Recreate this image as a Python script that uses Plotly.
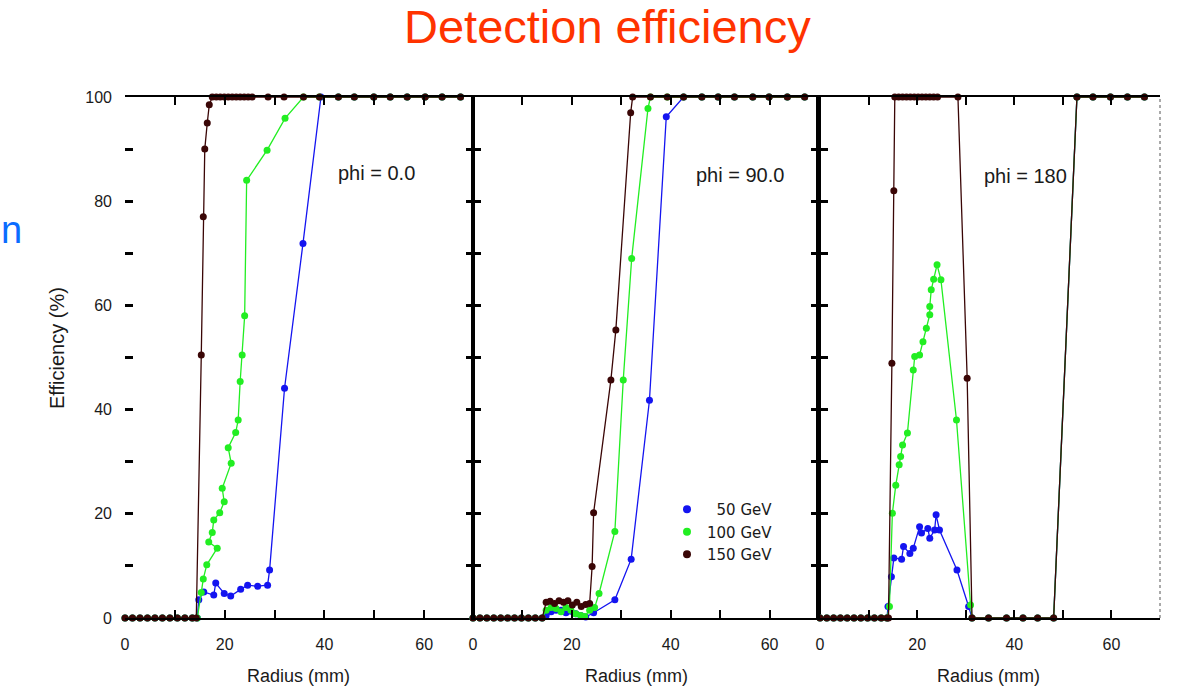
import plotly.graph_objects as go

W, H = 1195, 687

# ---------------- data ----------------
# phi = 0.0 panel
z1 = [0, 1.5, 3, 4.5, 6, 7.5, 9, 10.5, 12, 13.5]
top1 = [35.8, 39.0, 42.8, 46.0, 49.9, 53.2, 56.6, 60.2, 63.6, 67.3]

p1_150_x = z1 + [14.3, 15.3, 15.7, 16.0, 16.5, 16.9, 17.5, 18.3, 19.1, 19.9, 20.7,
                 21.5, 22.3, 23.1, 23.9, 24.7, 25.5, 28.7, 31.9] + top1
p1_150_y = [0] * 10 + [0, 50.5, 77, 90, 95, 98.5, 100, 100, 100, 100, 100,
                       100, 100, 100, 100, 100, 100, 100, 100] + [100] * 10

p1_100_x = z1 + [14.5, 15.3, 15.7, 16.4, 18.5, 16.8, 17.5, 17.8, 19.0, 19.9, 19.5,
                 21.3, 20.7, 22.2, 22.7, 23.1, 23.5, 24.0, 24.4, 28.5, 32.1] + top1
p1_100_y = [0] * 10 + [0, 4.9, 7.5, 10.2, 13.4, 14.6, 16.4, 18.8, 20.2, 22.3, 24.9,
                       29.7, 32.7, 35.6, 38.0, 45.4, 50.5, 58.0, 84.0, 89.8, 95.9] + [100] * 10

p1_50_x = z1 + [14.5, 14.8, 15.8, 17.8, 18.2, 19.9, 21.2, 23.2, 24.6, 26.6, 28.6,
                29.0, 32.0, 35.7, 39.3] + top1[2:]
p1_50_y = [0] * 10 + [0, 3.5, 5.0, 4.4, 6.7, 4.7, 4.2, 5.5, 6.3, 6.1, 6.3,
                      9.2, 44.1, 71.9, 100] + [100] * 8

# phi = 90.0 panel
z2 = [0, 1.4, 2.8, 4.2, 5.6, 7.0, 8.4, 9.8, 11.2, 12.6, 14.0]
top2 = [35.9, 39.3, 42.6, 46.3, 49.6, 52.9, 56.6, 59.9, 63.6, 67.1]

p2_150_x = z2 + [14.8, 15.6, 16.5, 17.4, 18.3, 19.2, 20.1, 21.0, 21.9, 22.8, 23.6,
                 24.1, 24.4, 27.9, 28.9, 31.9, 32.3] + top2
p2_150_y = [0] * 11 + [3.0, 3.2, 2.8, 3.3, 3.0, 3.3, 2.5, 3.0, 2.2, 2.6, 2.8,
                       9.9, 20.2, 45.7, 55.3, 97.0, 100] + [100] * 10

p2_100_x = z2 + [14.8, 15.8, 16.8, 17.8, 18.8, 19.8, 20.8, 21.8, 22.6, 23.6, 24.6,
                 25.5, 28.7, 30.4, 32.1, 35.4] + top2
p2_100_y = [0] * 11 + [1.5, 2.0, 1.8, 1.2, 2.0, 1.5, 0.8, 0.5, 0.3, 1.5, 2.0,
                       4.7, 16.6, 45.7, 69.0, 97.8] + [100] * 10

p2_50_x = z2 + [14.8, 15.8, 16.8, 17.8, 18.8, 19.8, 20.8, 21.8, 22.8, 24.4,
                28.7, 32.0, 35.7, 39.1] + top2[2:]
p2_50_y = [0] * 11 + [0.5, 1.2, 1.5, 1.5, 1.0, 1.3, 0.8, 0.5, 0.2, 1.0,
                      3.5, 11.3, 41.8, 96.2] + [100] * 8

# phi = 180 panel
z3 = [0, 1.4, 2.8, 4.2, 5.6, 7.0, 8.4, 9.8, 11.2, 12.6, 13.8]
gap3_x = [34.7, 38.4, 41.8, 44.8, 48.1]
top3 = [52.9, 56.2, 59.8, 63.3, 66.8]

p3_150_x = z3 + [14.1, 14.8, 15.2, 15.4, 16.2, 17.0, 17.8, 18.6, 19.4, 20.2, 21.0,
                 21.8, 22.6, 23.4, 24.2, 28.4, 30.3, 31.3] + gap3_x + top3
p3_150_y = [0] * 11 + [0, 48.9, 82.0, 100, 100, 100, 100, 100, 100, 100, 100,
                       100, 100, 100, 100, 100, 46.0, 0] + [0] * 5 + [100] * 5

p3_100_x = z3 + [14.3, 14.9, 15.6, 16.3, 16.6, 17.0, 18.0, 19.2, 19.5, 20.5, 21.2,
                 21.9, 22.6, 22.6, 22.9, 23.4, 24.1, 24.9, 28.1, 31.0, 31.3] + gap3_x + top3
p3_100_y = [0] * 11 + [2.2, 20.1, 25.5, 29.4, 31.0, 33.2, 35.5, 47.6, 50.2, 50.5, 53.0,
                       55.6, 58.2, 59.8, 63.0, 65.0, 67.8, 64.9, 38.0, 2.5, 0] + [0] * 5 + [100] * 5

p3_50_x = z3 + [14.0, 14.7, 15.2, 16.8, 17.2, 18.5, 19.2, 20.5, 20.9, 22.2, 22.6,
                23.6, 23.9, 24.6, 28.2, 30.6, 31.3] + gap3_x + top3
p3_50_y = [0] * 11 + [2.2, 7.9, 11.5, 11.3, 13.7, 12.4, 13.4, 17.5, 16.3, 17.2, 15.3,
                      16.9, 19.8, 16.9, 9.2, 2.2, 0] + [0] * 5 + [100] * 5

series_names = ["\u00a0\u00a050 GeV", "100 GeV", "150 GeV"]
colors = ["#1414f0", "#22ee22", "#3a0606"]
panel_labels = ["phi = 0.0", "phi = 90.0", "phi = 180"]
x_ticks = [0, 20, 40, 60]
y_ticks = [0, 20, 40, 60, 80, 100]

panels = [
    [(p1_50_x, p1_50_y), (p1_100_x, p1_100_y), (p1_150_x, p1_150_y)],
    [(p2_50_x, p2_50_y), (p2_100_x, p2_100_y), (p2_150_x, p2_150_y)],
    [(p3_50_x, p3_50_y), (p3_100_x, p3_100_y), (p3_150_x, p3_150_y)],
]

# ---------------- layout geometry (pixels) ----------------
def px(x):
    return x / W

def py(y):
    return 1 - y / H

x_domains = [(125, 474), (473, 819), (820, 1160)]
y_dom = [py(618), py(97)]

fig = go.Figure()

for i, panel in enumerate(panels):
    xa = "x" if i == 0 else f"x{i+1}"
    ya = "y" if i == 0 else f"y{i+1}"
    for j, (xs, ys) in enumerate(panel):
        fig.add_trace(go.Scatter(
            x=xs, y=ys, xaxis=xa, yaxis=ya, mode="lines+markers",
            line=dict(color=colors[j], width=1.3),
            marker=dict(color=colors[j], size=7, symbol="circle"),
            cliponaxis=False, showlegend=False, hoverinfo="skip"))

# legend-only traces
for j in range(3):
    fig.add_trace(go.Scatter(x=[None], y=[None], xaxis="x2", yaxis="y2",
                             mode="markers", name=series_names[j],
                             marker=dict(color=colors[j], size=8)))

tickfont = dict(family="Liberation Sans, Arial, sans-serif", size=16, color="#1a1a1a")

layout = dict(
    width=W, height=H, autosize=False,
    margin=dict(l=0, r=0, t=0, b=0, autoexpand=False),
    paper_bgcolor="white", plot_bgcolor="white",
    showlegend=True,
    legend=dict(x=px(667), y=py(493), xanchor="left", yanchor="top",
                font=dict(family="DejaVu Sans, sans-serif", size=15, color="#1a1a1a"),
                bgcolor="rgba(0,0,0,0)", tracegroupgap=0, itemwidth=30),
)

for i in range(3):
    xk = "xaxis" if i == 0 else f"xaxis{i+1}"
    yk = "yaxis" if i == 0 else f"yaxis{i+1}"
    yref = "y" if i == 0 else f"y{i+1}"
    xref = "x" if i == 0 else f"x{i+1}"
    layout[xk] = dict(
        domain=[px(x_domains[i][0]), px(x_domains[i][1])],
        range=[0, 70], anchor=yref, automargin=False,
        tickvals=x_ticks, ticks="inside", ticklen=8, tickwidth=1.5, tickcolor="black",
        minor=dict(dtick=10, tick0=0, ticks="inside", ticklen=8, tickwidth=1.5, tickcolor="black"),
        showline=True, linecolor="black", linewidth=2, mirror="ticks",
        showgrid=False, zeroline=False, tickfont=tickfont, ticklabelstandoff=11,
    )
    ydict = dict(
        domain=y_dom, range=[0, 100], anchor=xref, automargin=False,
        tickvals=y_ticks, ticks="inside", ticklen=8, tickwidth=2.5, tickcolor="black",
        minor=dict(dtick=10, tick0=0, ticks="inside", ticklen=8, tickwidth=2.5, tickcolor="black"),
        showgrid=False, zeroline=False, tickfont=tickfont,
    )
    if i == 0:
        ydict.update(showline=False, mirror="ticks", showticklabels=True, ticklabelstandoff=12)
    elif i == 1:
        ydict.update(showline=True, linecolor="black", linewidth=2, mirror="ticks", showticklabels=False)
    else:
        ydict.update(showline=True, linecolor="black", linewidth=3.5, mirror=False, showticklabels=False)
    layout[yk] = ydict

fig.update_layout(**layout)

# panel borders
fig.add_shape(type="line", xref="x domain", yref="y domain", x0=1, x1=1, y0=0, y1=1,
              line=dict(color="black", width=2))
fig.add_shape(type="line", xref="x3 domain", yref="y3 domain", x0=1, x1=1, y0=0, y1=1,
              line=dict(color="#555555", width=1, dash="dot"))

ann_font = "Liberation Sans, Arial, sans-serif"
annotations = [
    dict(text="Detection efficiency", x=px(607), y=py(27), xref="paper", yref="paper",
         showarrow=False, xanchor="center", yanchor="middle",
         font=dict(family=ann_font, size=47, color="#ff3300")),
    dict(text="n", x=0, y=py(230), xref="paper", yref="paper",
         showarrow=False, xanchor="left", yanchor="middle", borderpad=0,
         font=dict(family=ann_font, size=38, color="#0a6cff")),
    dict(text="Efficiency (%)", x=px(57), y=py(348), xref="paper", yref="paper",
         showarrow=False, textangle=-90, xanchor="center", yanchor="middle",
         font=dict(family=ann_font, size=20, color="#1a1a1a")),
]
label_pos = [(376, 173), (740, 175), (1025, 176)]
title_x = [298, 636, 988]
for i in range(3):
    annotations.append(dict(text=panel_labels[i], x=px(label_pos[i][0]), y=py(label_pos[i][1]),
                            xref="paper", yref="paper", showarrow=False,
                            xanchor="center", yanchor="middle",
                            font=dict(family=ann_font, size=20, color="#1a1a1a")))
    annotations.append(dict(text="Radius (mm)", x=px(title_x[i]), y=py(676),
                            xref="paper", yref="paper", showarrow=False,
                            xanchor="center", yanchor="middle",
                            font=dict(family=ann_font, size=18, color="#1a1a1a")))
fig.update_layout(annotations=annotations)

fig.write_html("out.html")
